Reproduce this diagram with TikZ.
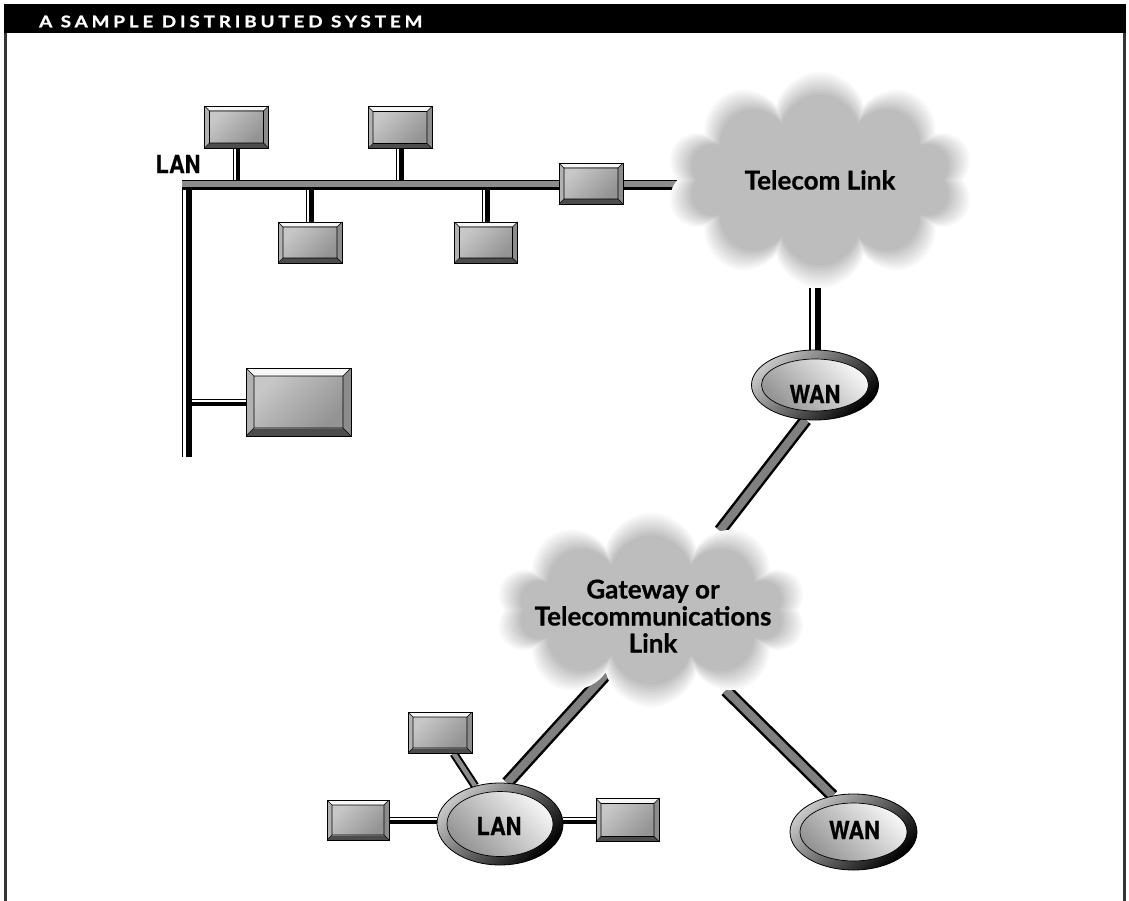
\documentclass[tikz,border=0pt]{standalone}
\usepackage{fontspec}
\setmainfont{Lato}
\newfontfamily\condfont[FakeStretch=0.87, FakeBold=0.8]{TeX Gyre Heros}
\newfontfamily\headfont[FakeStretch=1.18, LetterSpace=24, FakeBold=1.2]{Lato}
\newfontfamily\cloudfont[FakeBold=0.6]{Lato}
\usetikzlibrary{shapes.geometric,shapes.symbols,backgrounds}

\newcommand\bevelfill[1]{%
  \path (path picture bounding box.north west) coordinate (pNW)
        (path picture bounding box.north east) coordinate (pNE)
        (path picture bounding box.south east) coordinate (pSE)
        (path picture bounding box.south west) coordinate (pSW);
  \path ([xshift=#1,yshift=-#1]pNW) coordinate (qNW)
        ([xshift=-#1,yshift=-#1]pNE) coordinate (qNE)
        ([xshift=-#1,yshift=#1]pSE) coordinate (qSE)
        ([xshift=#1,yshift=#1]pSW) coordinate (qSW);
  \fill[black!3]  (pNW) -- (pNE) -- (qNE) -- (qNW) -- cycle;
  \fill[black!45] (pNE) -- (pSE) -- (qSE) -- (qNE) -- cycle;
  \fill[black!70] (pSE) -- (pSW) -- (qSW) -- (qSE) -- cycle;
  \fill[black!30] (pSW) -- (pNW) -- (qNW) -- (qSW) -- cycle;
  \shade[top color=black!22, middle color=black!5, bottom color=black!42, shading angle=45]
        (qNW) -- (qNE) -- (qSE) -- (qSW) -- cycle;
  \draw[line width=0.6pt] (qNW) -- (qNE) -- (qSE) -- (qSW) -- cycle
        (pNW) -- (qNW) (pNE) -- (qNE) (pSE) -- (qSE) (pSW) -- (qSW);
}

\tikzset{
  compbox/.style={rectangle, draw=black, line width=0.9pt, inner sep=0pt, path picture={\bevelfill{#1}}},
  compbox/.default=5pt,
  ringout/.style={ellipse, draw=black, line width=0.8pt, inner sep=0pt,
    top color=black!22, bottom color=black, shading angle=45},
  ringin/.style={ellipse, draw=black, line width=0.7pt, inner sep=0pt,
    top color=black!4, bottom color=black!42, shading angle=-45},
  ringtext/.style={inner sep=0pt, font=\condfont\bfseries\fontsize{25}{25}\selectfont},
  cloudlayer/.style={cloud, cloud puffs=10, cloud ignores aspect, draw=none, fill=black!#1, inner sep=0pt},
  cloudtext/.style={inner sep=0pt, align=center, font=\cloudfont\bfseries\fontsize{26}{27}\selectfont},
  stemV/.style={draw=black, line width=7.5pt, postaction={draw=white, line width=2pt, transform canvas={xshift=-1.6pt}}},
  stemVbig/.style={draw=black, line width=12pt, postaction={draw=white, line width=4pt, transform canvas={xshift=-2.5pt}}},
  stemH/.style={draw=black, line width=7pt, postaction={draw=white, line width=2pt, transform canvas={yshift=1.3pt}}},
  vbus/.style={draw=black, line width=10pt, postaction={draw=white, line width=3pt, transform canvas={xshift=-2.5pt}}},
  hbus/.style={draw=black, line width=10pt, postaction={draw=black!45, line width=6pt, transform canvas={yshift=1pt}}},
  pipe/.style={draw=black, line width=13pt, postaction={draw=black!50, line width=8pt}},
  pipeS/.style={draw=black, line width=8.5pt, postaction={draw=black!45, line width=4.5pt}},
  framerule/.style={draw=black!80, line width=2.5pt},
}

\begin{document}
\begin{tikzpicture}[x=1pt,y=-1pt]
\useasboundingbox (0,0) rectangle (1129,901);

% header and frame
\fill[black] (4,4) rectangle (1126,33);
\node[anchor=west, inner sep=0pt, text=white, font=\headfont\bfseries\fontsize{16}{16}\selectfont] (title) at (39,21.5) {A SAMPLE DISTRIBUTED SYSTEM};
\draw[framerule] (5.5,33) -- (5.5,901);
\draw[framerule] (1124.5,33) -- (1124.5,901);

% clouds (opaque layers, light outside, darker core)
\foreach \i [evaluate=\i as \c using 2.6*(\i+1)] in {0,...,9}{
  \node[cloudlayer=\c, minimum width={308-5*\i}, minimum height={216-5*\i}] (tc\i) at (820,180) {};
  \node[cloudlayer=\c, minimum width={310-5*\i}, minimum height={194-5*\i}] (gw\i) at (651,610) {};
}
\node[cloudtext] (tct) at (820,180) {Telecom Link};
\node[cloudtext] (gwt) at (653,616) {Gateway or\\Telecommunications\\Link};

% LAN bus coordinates
\coordinate (corner) at (187,185);
\coordinate (vbot) at (187,457);
\node[inner sep=0pt, font=\condfont\bfseries\fontsize{25}{25}\selectfont] (lanlabel) at (178,164) {LAN};

% computers (top LAN)
\node[compbox, minimum width=64, minimum height=42] (b1) at (236.5,127) {};
\node[compbox, minimum width=64, minimum height=42] (b2) at (400,127.5) {};
\node[compbox, minimum width=64, minimum height=41] (b3) at (310,242.5) {};
\node[compbox, minimum width=63, minimum height=41] (b4) at (486,242.5) {};
\node[compbox, minimum width=64, minimum height=41] (b5) at (591,183.5) {};
\node[compbox=8pt, minimum width=105, minimum height=68] (bb) at (298.5,402) {};

% WAN / LAN rings
\node[ringout, minimum width=127, minimum height=70] (wan1) at (815,385) {};
\node[ringin, minimum width=107, minimum height=52] (wan1i) at (815,385) {};
\node[ringtext] (wan1t) at (815,394) {WAN};

\node[ringout, minimum width=126, minimum height=82] (lan) at (500,824) {};
\node[ringin, minimum width=106, minimum height=65] (lani) at (500,824) {};
\node[ringtext] (lant) at (499,826) {LAN};

\node[ringout, minimum width=127, minimum height=76] (wan2) at (853.5,832) {};
\node[ringin, minimum width=107, minimum height=58] (wan2i) at (853.5,832) {};
\node[ringtext] (wan2t) at (854.5,830) {WAN};

% computers (bottom LAN)
\node[compbox, minimum width=64, minimum height=41] (lbt) at (440,732.5) {};
\node[compbox, minimum width=62, minimum height=40] (lbl) at (358,820) {};
\node[compbox, minimum width=63, minimum height=43] (lbr) at (627.5,820) {};

% connectors
\begin{scope}[on background layer]
  \draw[stemV] (b1) -- (b1 |- corner);
  \draw[stemV] (b2) -- (b2 |- corner);
  \draw[stemV] (b3) -- (b3 |- corner);
  \draw[stemV] (b4) -- (b4 |- corner);
  \draw[stemH] (bb) -- (bb -| corner);
  \draw[vbus] ([yshift=5pt]corner) -- (vbot);
  \draw[hbus] ([xshift=-5pt]corner) -- (tc0.west |- corner);
  \draw[stemVbig] (wan1.north) -- (wan1.north |- tc0.south);
  \draw[pipe] (wan1.255) -- (gw0.49);
  \draw[pipe] (gw0.235) -- (lan.80);
  \draw[pipe] (gw0.313) -- (wan2.120);
  \draw[pipeS] (lbt) -- (lan);
  \draw[stemH] (lbl) -- (lbl -| lan.west);
  \draw[stemH] (lbr) -- (lbr -| lan.east);
\end{scope}
\end{tikzpicture}
\end{document}
